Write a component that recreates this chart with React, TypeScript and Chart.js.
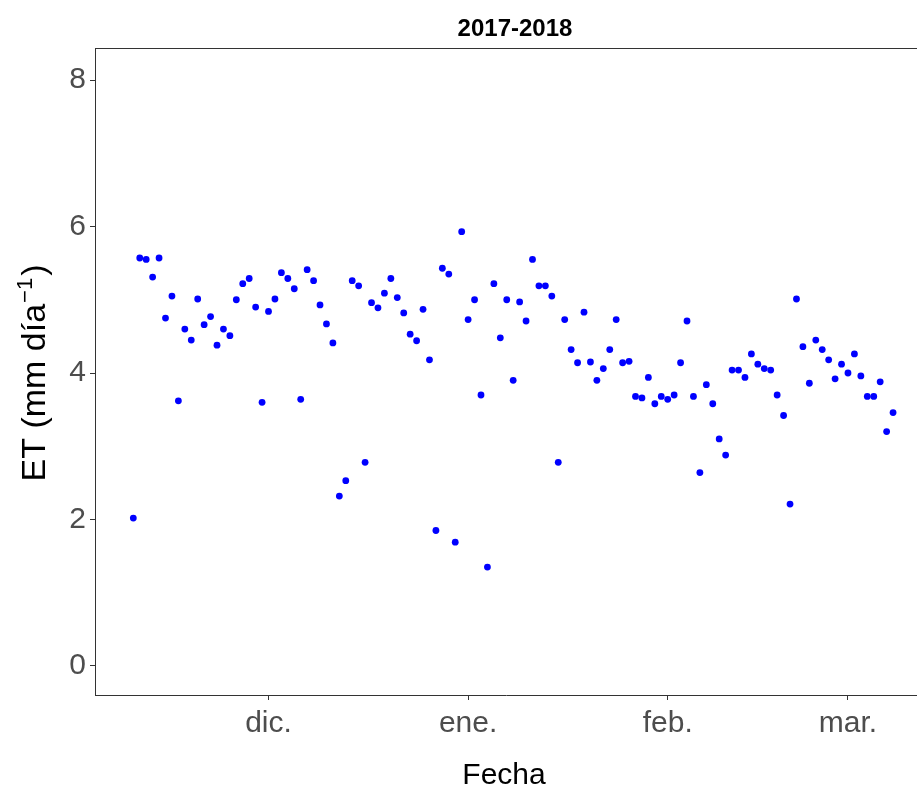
import React, { useEffect, useRef } from "react";
import { Chart, registerables } from "chart.js";

Chart.register(...registerables);

// Daily evapotranspiration, season 2017-2018 (mm/day)
// Day offsets are counted from 1 December 2017 (= 0).
const novStartDay = -21; // 10 Nov 2017
const novET = [2.02, 5.57, 5.55, 5.31, 5.57, 4.75, 5.05, 3.62, 4.6, 4.45, 5.01, 4.66, 4.77, 4.38, 4.6, 4.51, 5.0, 5.22, 5.29, 4.9, 3.6];
const decStartDay = 0; // 1 Dec 2017
const decET = [4.84, 5.01, 5.37, 5.29, 5.15, 3.64, 5.41, 5.26, 4.93, 4.67, 4.41, 2.32, 2.53, 5.26, 5.19, 2.78, 4.96, 4.89, 5.09, 5.29, 5.03, 4.82, 4.53, 4.44, 4.87, 4.18, 1.85, 5.43, 5.35, 1.69, 5.93];
const janStartDay = 31; // 1 Jan 2018
const janET = [4.73, 5.0, 3.7, 1.35, 5.22, 4.48, 5.0, 3.9, 4.97, 4.71, 5.55, 5.19, 5.19, 5.05, 2.78, 4.73, 4.32, 4.14, 4.83, 4.15, 3.9, 4.06, 4.32, 4.73, 4.14, 4.16, 3.68, 3.66, 3.94, 3.58, 3.68];
const febStartDay = 62; // 1 Feb 2018
const febET = [3.64, 3.7, 4.14, 4.71, 3.68, 2.64, 3.84, 3.58, 3.1, 2.88, 4.04, 4.04, 3.94, 4.26, 4.12, 4.06, 4.04, 3.7, 3.42, 2.21, 5.01, 4.36, 3.86, 4.45, 4.32, 4.18, 3.92, 4.12];
const marStartDay = 90; // 1 Mar 2018
const marET = [4.0, 4.26, 3.96, 3.68, 3.68, 3.88, 3.2, 3.46];

const monthTickDays = [0, 31, 62, 90];
const monthTickLabels = ["dic.", "ene.", "feb.", "mar."];
const yTickValues = [0, 2, 4, 6, 8];

const seasonTitle = "2017-2018";
const xAxisTitle = "Fecha";
const yTitleMain = "ET (mm día";
const yTitleSup = "\u22121";
const yTitleEnd = ")";

const FONT = '"Liberation Sans", Arial, sans-serif';

function monthPoints(startDay: number, values: number[]) {
  return values.map((v, i) => ({ x: startDay + i, y: v }));
}

const decorations = {
  id: "decorations",
  afterDraw(chart: any) {
    const { ctx, chartArea } = chart;
    ctx.save();
    // top panel border (the panel continues past the right edge of the figure)
    ctx.strokeStyle = "#333333";
    ctx.lineWidth = 1;
    ctx.beginPath();
    ctx.moveTo(chartArea.left, chartArea.top + 0.5);
    ctx.lineTo(chartArea.right, chartArea.top + 0.5);
    ctx.stroke();

    // plot title
    ctx.fillStyle = "#000000";
    ctx.textAlign = "center";
    ctx.textBaseline = "alphabetic";
    ctx.font = `bold 24px ${FONT}`;
    ctx.fillText(seasonTitle, 515, 36);

    // x axis title
    ctx.font = `30px ${FONT}`;
    ctx.fillText(xAxisTitle, 504, 784);

    // y axis title with superscript
    ctx.translate(45, 373);
    ctx.rotate(-Math.PI / 2);
    ctx.textAlign = "left";
    const mainFont = `34px ${FONT}`;
    const supFont = `22px ${FONT}`;
    ctx.font = mainFont;
    const wMain = ctx.measureText(yTitleMain).width;
    const wEnd = ctx.measureText(yTitleEnd).width;
    ctx.font = supFont;
    const wSup = ctx.measureText(yTitleSup).width;
    const total = wMain + wSup + 3 + wEnd;
    let x = -total / 2;
    ctx.font = mainFont;
    ctx.fillText(yTitleMain, x, 0);
    x += wMain + 1;
    ctx.font = supFont;
    ctx.fillText(yTitleSup, x, -13);
    x += wSup + 2;
    ctx.font = mainFont;
    ctx.fillText(yTitleEnd, x, 0);
    ctx.restore();
  },
};

export default function App() {
  const canvasRef = useRef<HTMLCanvasElement | null>(null);

  useEffect(() => {
    if (!canvasRef.current) return;
    const data = [
      ...monthPoints(novStartDay, novET),
      ...monthPoints(decStartDay, decET),
      ...monthPoints(janStartDay, janET),
      ...monthPoints(febStartDay, febET),
      ...monthPoints(marStartDay, marET),
    ];
    const chart = new Chart(canvasRef.current, {
      type: "scatter",
      data: {
        datasets: [
          {
            data,
            backgroundColor: "#0000FF",
            borderWidth: 0,
            pointRadius: 3.4,
          },
        ],
      },
      options: {
        animation: false,
        responsive: false,
        devicePixelRatio: 1,
        layout: { autoPadding: false, padding: { top: 48, left: 0, right: 0, bottom: 0 } },
        plugins: {
          legend: { display: false },
          tooltip: { enabled: false },
          title: { display: false },
        },
        scales: {
          x: {
            type: "linear",
            min: -26.95,
            max: 100.72,
            afterBuildTicks: (scale: any) => {
              scale.ticks = monthTickDays.map((v) => ({ value: v }));
            },
            afterFit: (scale: any) => {
              scale.height = 93;
              scale.paddingLeft = 0;
              scale.paddingRight = 0;
            },
            ticks: {
              autoSkip: false,
              maxRotation: 0,
              padding: 6,
              color: "#4D4D4D",
              font: { family: FONT, size: 30 },
              callback: (value: any) => {
                const idx = monthTickDays.indexOf(Number(value));
                return idx >= 0 ? monthTickLabels[idx] : "";
              },
            },
            grid: {
              drawOnChartArea: false,
              drawTicks: true,
              tickLength: 5,
              color: "#333333",
            },
            border: { display: true, color: "#333333", width: 1 },
          },
          y: {
            type: "linear",
            min: -0.396,
            max: 8.437,
            afterBuildTicks: (scale: any) => {
              scale.ticks = yTickValues.map((v) => ({ value: v }));
            },
            afterFit: (scale: any) => {
              scale.width = 95;
              scale.paddingTop = 0;
              scale.paddingBottom = 0;
            },
            ticks: {
              padding: 4,
              color: "#4D4D4D",
              font: { family: FONT, size: 30 },
              callback: (value: any) => String(value),
            },
            grid: {
              drawOnChartArea: false,
              drawTicks: true,
              tickLength: 5,
              color: "#333333",
            },
            border: { display: true, color: "#333333", width: 1 },
          },
        },
      },
      plugins: [decorations],
    });
    return () => chart.destroy();
  }, []);

  return (
    <div
      style={{
        position: "absolute",
        left: 0,
        top: 0,
        width: 917,
        height: 788,
        background: "#ffffff",
        overflow: "hidden",
      }}
    >
      <canvas ref={canvasRef} width={917} height={788} style={{ display: "block" }} />
    </div>
  );
}
